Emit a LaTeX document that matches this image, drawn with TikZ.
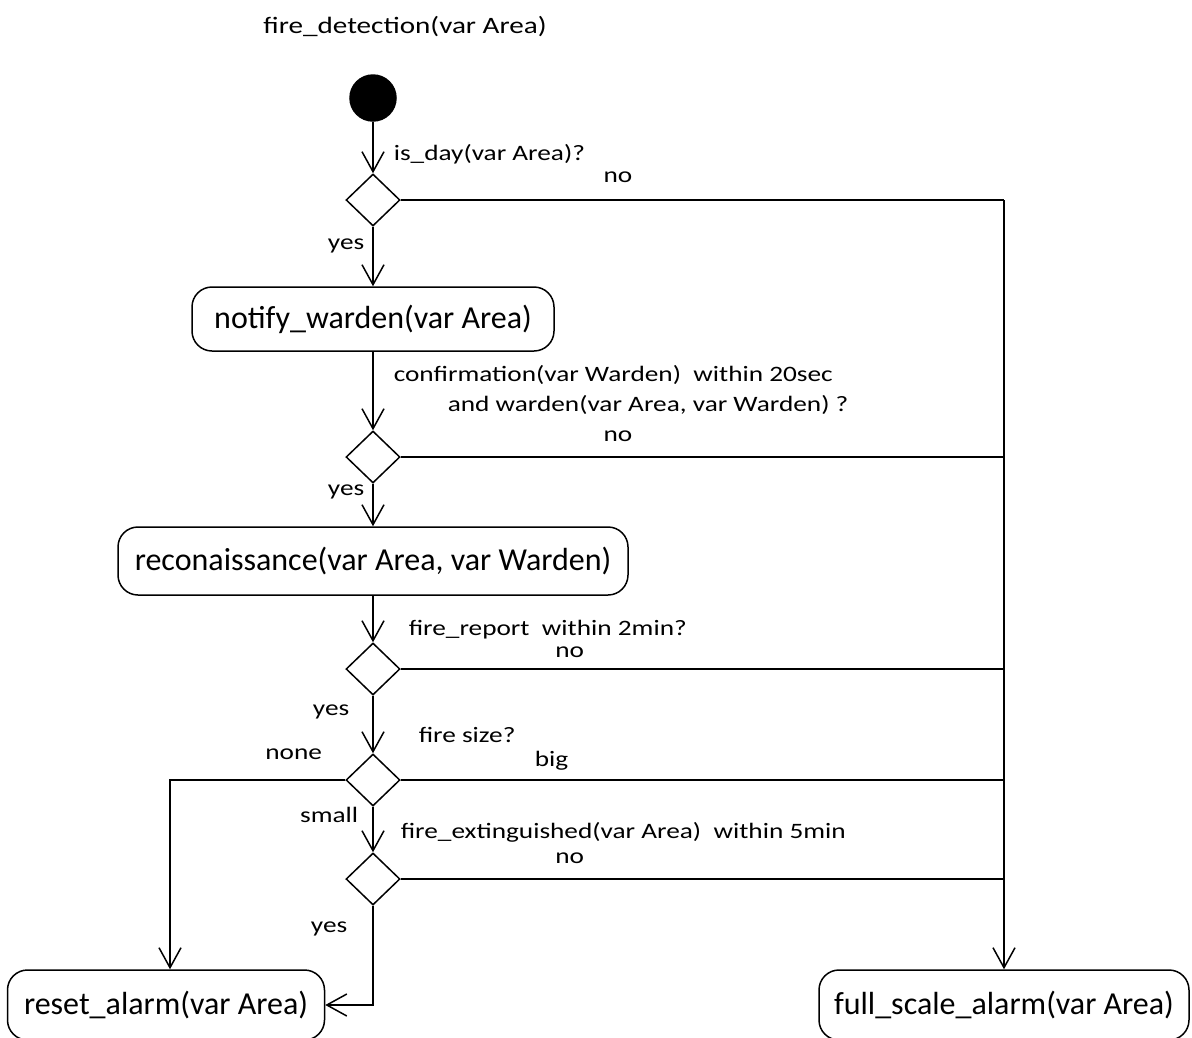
\documentclass[tikz,border=0pt]{standalone}
\usepackage{fontspec}
\setmainfont{Carlito}
\newfontfamily\guardfont{Carlito}[FakeStretch=1.24]
\usetikzlibrary{shapes.geometric, arrows.meta, positioning}

\begin{document}
\begin{tikzpicture}[x=1pt, y=-1pt, >={Straight Barb[length=20pt, width=22pt]}, line width=1.5pt]
    \useasboundingbox (0,0) rectangle (1192,1037);
    % Define styles for activities, decisions, guards and branch labels
    \tikzstyle{activity} = [draw, rectangle, rounded corners=20pt, minimum height=68pt, font=\fontsize{32}{36}\selectfont]
    \tikzstyle{decision} = [draw, diamond, minimum width=54pt, minimum height=52pt, inner sep=0pt]
    \tikzstyle{initstate} = [draw, fill=black, circle, minimum size=46pt, inner sep=0pt]
    \tikzstyle{guard} = [anchor=west, inner sep=0pt, align=left, font=\guardfont\fontsize{22}{30}\selectfont]
    \tikzstyle{branch} = [inner sep=2pt, font=\guardfont\fontsize{22}{30}\selectfont]

    % Nodes placement
    \node [branch, font=\guardfont\fontsize{23.5}{28}\selectfont] (title) at (405,27) {fire\_detection(var Area)};
    \node [initstate] (init) at (373,98) {};
    \node [decision, below of=init, node distance=102pt] (isday) {};
    \node [activity, below of=isday, node distance=119pt, minimum width=362pt, minimum height=64pt] (notify) {notify\_warden(var Area)};
    \node [decision, below of=notify, node distance=138pt] (confirm) {};
    \node [activity, below of=confirm, node distance=104pt, minimum width=510pt] (recon) {reconaissance(var Area, var Warden)};
    \node [decision, below of=recon, node distance=108pt] (report) {};
    \node [decision, below of=report, node distance=111pt] (size) {};
    \node [decision, below of=size, node distance=99pt] (extinct) {};
    \node [activity, minimum width=317pt, minimum height=70pt] (reset) at (166,1005) {reset\_alarm(var Area)};
    \node [activity, minimum width=370pt, minimum height=70pt] (full) at (1004,1005) {full\_scale\_alarm(var Area)};

    % Junctions on the line down to the full scale alarm
    \coordinate (j1) at (isday.east -| full.north);
    \coordinate (j2) at (confirm.east -| full.north);
    \coordinate (j3) at (report.east -| full.north);
    \coordinate (j4) at (size.east -| full.north);
    \coordinate (j5) at (extinct.east -| full.north);
    \coordinate (resetin) at ([xshift=4pt]reset.north);

    % Draw edges
    \draw[->] (init) -- node[guard, pos=0.63, xshift=20pt] {is\_day(var Area)?} (isday);
    \draw[->] (isday) -- node[branch, pos=0.32, left, xshift=-6pt] {yes} (notify);
    \draw (isday.east) -- node[branch, pos=0.36, above=15pt] {no} (j1);
    \draw[->] (j1) -- (full.north);

    \draw[->] (notify) -- node[guard, pos=0.49, xshift=20pt] {confirmation(var Warden)\ \ within 20sec\\\hspace*{54pt}and warden(var Area, var Warden) ?} (confirm);
    \draw[->] (confirm) -- node[branch, pos=0.19, left, xshift=-6pt] {yes} (recon);
    \draw (confirm.east) -- node[branch, pos=0.36, above=13pt] {no} (j2);

    \draw[->] (recon) -- node[guard, pos=0.73, xshift=35pt] {fire\_report\ \ within 2min?} (report);
    \draw (report.east) -- node[branch, pos=0.28, above=9pt] {no} (j3);

    \draw[->] (report) -- node[branch, pos=0.28, left, xshift=-21pt] {yes}
        node[guard, pos=0.68, xshift=45pt] {fire size?} (size);
    \draw (size.east) -- node[branch, pos=0.25, above=7pt] {big} (j4);
    \draw[->] (size.west) -| node[branch, pos=0.147, above=18pt] {none} (resetin);

    \draw[->] (size) -- node[branch, pos=0.19, left, xshift=-12pt] {small}
        node[guard, pos=0.57, xshift=27pt] {fire\_extinguished(var Area)\ \ within 5min} (extinct);
    \draw (extinct.east) -- node[branch, pos=0.28, above=13pt] {no} (j5);
    \draw[->] (extinct.south) |- node[branch, pos=0.115, left, xshift=-23pt] {yes} (reset.east);
\end{tikzpicture}
\end{document}
